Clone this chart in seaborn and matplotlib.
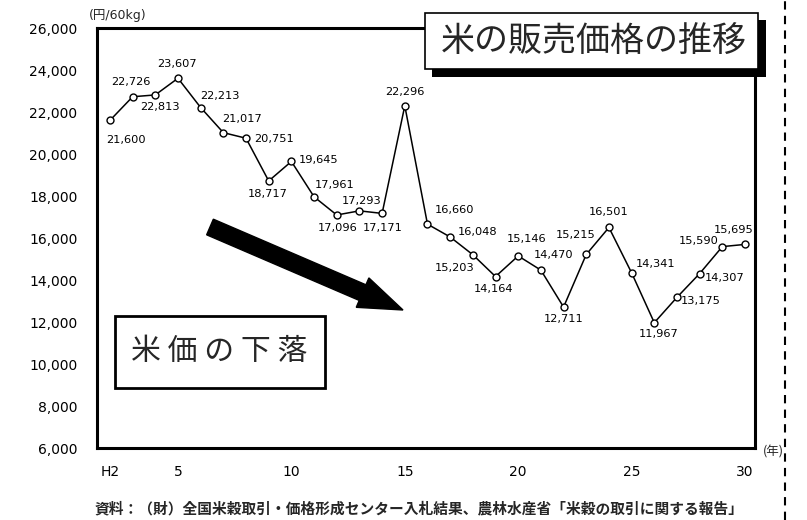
import matplotlib
matplotlib.use("Agg")
import matplotlib.pyplot as plt
import matplotlib.patches as mpatches
from matplotlib.lines import Line2D
import seaborn as sns
import pandas as pd

years = list(range(2, 31))
prices = [21600, 22726, 22813, 23607, 22213, 21017, 20751, 18717, 19645, 17961,
          17096, 17293, 17171, 22296, 16660, 16048, 15203, 14164, 15146, 14470,
          12711, 15215, 16501, 14341, 11967, 13175, 14307, 15590, 15695]
xtick_vals = [2, 5, 10, 15, 20, 25, 30]
xtick_labels = ["H2", "5", "10", "15", "20", "25", "30"]
ytick_vals = list(range(6000, 26001, 2000))

title_text = "米の販売価格の推移"
box_text = "米 価 の 下 落"
unit_text = "(円/60kg)"
year_text = "(年)"
source_text = "資料：（財）全国米穀取引・価格形成センター入札結果、農林水産省「米穀の取引に関する報告」"

# label offsets in pixels (dx, dy) relative to point, styling only
offsets = [(16, -20), (-2, 15), (5, -12), (-1, 14), (19, 12), (19, 14), (28, -1),
           (-1, -13), (27, 1), (21, 12), (1, -13), (2, 10), (1, -15), (0, 14),
           (27, 14), (27, 5), (-18, -13), (-2, -12), (8, 17), (13, 15), (0, -12),
           (-11, 19), (0, 15), (24, 9), (4, -11), (24, -4), (25, -4), (-24, 6), (-11, 14)]

df = pd.DataFrame({"year": years, "price": prices})

sns.set_theme(style="white")
plt.rcParams['font.family'] = ['DejaVu Sans', 'Noto Sans CJK JP']

W, H = 807, 520
fig = plt.figure(figsize=(W / 100, H / 100), dpi=100)
fx = lambda px: px / W
fy = lambda py: 1 - py / H

ax = fig.add_axes([fx(97), fy(448), fx(755) - fx(97), fy(28) - fy(448)])
sns.lineplot(data=df, x="year", y="price", ax=ax, color="black", linewidth=1.1,
             marker="o", markersize=5, markerfacecolor="white",
             markeredgecolor="black", markeredgewidth=1.0)

ax.set_xlim(1.43, 30.44)
ax.set_ylim(6000, 26000)
ax.set_xticks(xtick_vals)
ax.set_xticklabels(xtick_labels, fontsize=10)
ax.set_yticks(ytick_vals)
ax.set_yticklabels([f"{v:,}" for v in ytick_vals], fontsize=10)
ax.tick_params(axis="both", length=0, colors="black")
ax.tick_params(axis="x", pad=12)
ax.tick_params(axis="y", pad=14)
ax.set_xlabel("")
ax.set_ylabel("")
for s in ax.spines.values():
    s.set_color("black")
    s.set_linewidth(2.2)
    s.set_visible(True)
ax.grid(False)

for x, y, (dx, dy) in zip(years, prices, offsets):
    ax.annotate(f"{y:,}", (x, y), xytext=(dx, dy), textcoords="offset pixels",
                ha="center", va="center", fontsize=8.2, color="black")

# unit and year labels
fig.text(fx(118), fy(15), unit_text, ha="center", va="center", fontsize=9,
         family=['DejaVu Sans', 'Noto Sans CJK JP'])
fig.text(fx(773), fy(452), year_text, ha="center", va="center", fontsize=9,
         family=['Noto Sans CJK JP', 'DejaVu Sans'])

# title box with shadow
fig.add_artist(mpatches.Rectangle((fx(432), fy(77)), fx(766) - fx(432), fy(20) - fy(77),
                                  transform=fig.transFigure, facecolor="black",
                                  edgecolor="none", zorder=5))
fig.add_artist(mpatches.Rectangle((fx(425), fy(69)), fx(758) - fx(425), fy(13) - fy(69),
                                  transform=fig.transFigure, facecolor="white",
                                  edgecolor="black", linewidth=1.2, zorder=6))
fig.text(fx(594), fy(42), title_text, ha="center", va="center", fontsize=24.5,
         family=['Noto Sans CJK JP', 'DejaVu Sans'], zorder=7)

# 米価の下落 box
fig.add_artist(mpatches.Rectangle((fx(115), fy(388)), fx(325) - fx(115), fy(316) - fy(388),
                                  transform=fig.transFigure, facecolor="white",
                                  edgecolor="black", linewidth=2, zorder=6))
fig.text(fx(219), fy(352), box_text, ha="center", va="center", fontsize=21.5,
         family=['Noto Sans CJK JP', 'DejaVu Sans'], zorder=7)

# arrow
arr = mpatches.FancyArrow(2.10, 2.93, 1.93, -0.83, width=0.17, head_width=0.32,
                          head_length=0.44, length_includes_head=True,
                          transform=fig.dpi_scale_trans, color="black", zorder=6)
fig.add_artist(arr)

# source
fig.text(fx(419), fy(508), source_text, ha="center", va="center", fontsize=10.6,
         family=['Noto Sans CJK JP', 'DejaVu Sans'], weight="bold")

# dashed vertical line at right
fig.add_artist(Line2D([fx(785), fx(785)], [0, 1], transform=fig.transFigure,
                      color="black", linewidth=1.5, linestyle=(0, (4, 3))))

fig.savefig("out.png", dpi=100, facecolor="white")
